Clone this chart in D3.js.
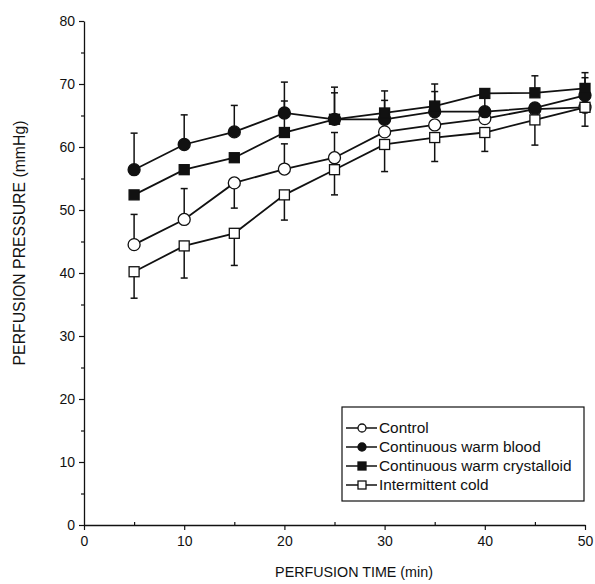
<!DOCTYPE html>
<html>
<head>
<meta charset="utf-8">
<script src="https://cdn.jsdelivr.net/npm/d3@7"></script>
<style>
  html, body { margin: 0; padding: 0; background: #fff; }
  svg { display: block; font-family: "Liberation Sans", Arial, sans-serif; }
</style>
</head>
<body>
<svg id="chart" width="595" height="584"></svg>
<script>
// ---- data ----
const times = [5, 10, 15, 20, 25, 30, 35, 40, 45, 50];
const control = [44.5, 48.5, 54.3, 56.5, 58.3, 62.4, 63.5, 64.5, 66.0, 66.3];
const controlErr = [4.8, 4.9, -4.0, 4.0, 4.0, null, null, null, null, null];
const warmBlood = [56.4, 60.4, 62.4, 65.4, 64.4, 64.4, 65.6, 65.6, 66.2, 68.2];
const warmBloodErr = [5.8, 4.7, 4.2, 4.9, 5.1, 3.0, 3.2, 3.3, null, 2.8];
const warmCrystalloid = [52.4, 56.4, 58.3, 62.3, 64.4, 65.4, 66.5, 68.5, 68.6, 69.3];
const warmCrystalloidErr = [null, null, null, 5.0, 4.2, 3.5, 3.5, null, 2.7, 2.5];
const intermittentCold = [40.2, 44.3, 46.3, 52.4, 56.4, 60.4, 61.5, 62.3, 64.3, 66.3];
const intermittentColdErr = [-4.2, -5.1, -5.1, -4.0, -4.0, -4.3, -3.8, -3.0, -4.0, -3.0];
const seriesNames = ["Control", "Continuous warm blood", "Continuous warm crystalloid", "Intermittent cold"];
const xTicks = [0, 10, 20, 30, 40, 50];
const yTicks = [0, 10, 20, 30, 40, 50, 60, 70, 80];
const xTitle = "PERFUSION TIME (min)";
const yTitle = "PERFUSION PRESSURE (mmHg)";

const series = [
  { name: seriesNames[0], values: control, err: controlErr, shape: "circle", filled: false },
  { name: seriesNames[1], values: warmBlood, err: warmBloodErr, shape: "circle", filled: true },
  { name: seriesNames[2], values: warmCrystalloid, err: warmCrystalloidErr, shape: "square", filled: true },
  { name: seriesNames[3], values: intermittentCold, err: intermittentColdErr, shape: "square", filled: false }
];

// ---- layout ----
const svg = d3.select("#chart");
const x = d3.scaleLinear().domain([0, 50]).range([84, 585]);
const y = d3.scaleLinear().domain([0, 80]).range([525, 21]);

// axes
const gy = svg.append("g").attr("transform", `translate(${x(0)},0)`)
  .call(d3.axisLeft(y).tickValues(yTicks).tickSize(5).tickPadding(4).tickSizeOuter(0));
const gyMinor = svg.append("g").attr("transform", `translate(${x(0)},0)`)
  .call(d3.axisLeft(y).tickValues(d3.range(5, 80, 10)).tickSize(3).tickFormat("").tickSizeOuter(0));
const gx = svg.append("g").attr("transform", `translate(0,${y(0)})`)
  .call(d3.axisBottom(x).tickValues(xTicks).tickSize(5).tickPadding(6).tickSizeOuter(0));
const gxMinor = svg.append("g").attr("transform", `translate(0,${y(0)})`)
  .call(d3.axisTop(x).tickValues(d3.range(5, 50, 10)).tickSize(3).tickFormat("").tickSizeOuter(0));

[gy, gyMinor, gx, gxMinor].forEach(g => {
  g.selectAll("path.domain").attr("stroke", "#111").attr("stroke-width", 1.3);
  g.selectAll("line").attr("stroke", "#111").attr("stroke-width", 1.2);
  g.selectAll("text").attr("fill", "#111").style("font-size", "14px")
    .style("font-family", "'Liberation Sans', Arial, sans-serif");
});
gyMinor.select("path.domain").remove();
gxMinor.select("path.domain").remove();

// axis titles
svg.append("text").attr("x", 354).attr("y", 577).attr("text-anchor", "middle")
  .style("font-size", "14.3px").attr("fill", "#111").text(xTitle);
svg.append("text").attr("transform", "translate(25,243) rotate(-90)").attr("text-anchor", "middle")
  .style("font-size", "15.8px").attr("fill", "#111").text(yTitle);

// ---- marks ----
const line = d3.line().x((d, i) => x(times[i])).y(d => y(d));
const plot = svg.append("g");

series.forEach(s => {
  plot.append("path").datum(s.values).attr("d", line)
    .attr("fill", "none").attr("stroke", "#111").attr("stroke-width", 1.8);
});

series.forEach(s => {
  const eg = plot.append("g");
  s.values.forEach((v, i) => {
    const e = s.err[i];
    if (e === null) return;
    const cx = x(times[i]);
    eg.append("line").attr("x1", cx).attr("x2", cx).attr("y1", y(v)).attr("y2", y(v + e))
      .attr("stroke", "#111").attr("stroke-width", 1.5);
    eg.append("line").attr("x1", cx - 3.5).attr("x2", cx + 3.5).attr("y1", y(v + e)).attr("y2", y(v + e))
      .attr("stroke", "#111").attr("stroke-width", 1.5);
  });
});

function drawMarker(g, shape, filled, cx, cy, size) {
  if (shape === "circle") {
    g.append("circle").attr("cx", cx).attr("cy", cy).attr("r", size)
      .attr("fill", filled ? "#111" : "#fff").attr("stroke", "#111").attr("stroke-width", 1.3);
  } else {
    g.append("rect").attr("x", cx - size).attr("y", cy - size).attr("width", size * 2).attr("height", size * 2)
      .attr("fill", filled ? "#111" : "#fff").attr("stroke", "#111").attr("stroke-width", 1.3);
  }
}

series.forEach(s => {
  const mg = plot.append("g");
  s.values.forEach((v, i) => {
    drawMarker(mg, s.shape, s.filled, x(times[i]), y(v), s.shape === "circle" ? 6 : 5);
  });
});

// ---- legend ----
const lg = svg.append("g");
lg.append("rect").attr("x", 342).attr("y", 407).attr("width", 242).attr("height", 94)
  .attr("fill", "#fff").attr("stroke", "#111").attr("stroke-width", 1.2);
series.forEach((s, i) => {
  const cy = 428 + i * 19;
  lg.append("line").attr("x1", 346).attr("x2", 377).attr("y1", cy).attr("y2", cy)
    .attr("stroke", "#111").attr("stroke-width", 1.5);
  drawMarker(lg, s.shape, s.filled, 362, cy, s.shape === "circle" ? 4 : 4);
  lg.append("text").attr("x", 379).attr("y", cy).attr("dy", "0.35em")
    .style("font-size", "15.4px").attr("fill", "#111").text(s.name);
});
</script>
</body>
</html>
